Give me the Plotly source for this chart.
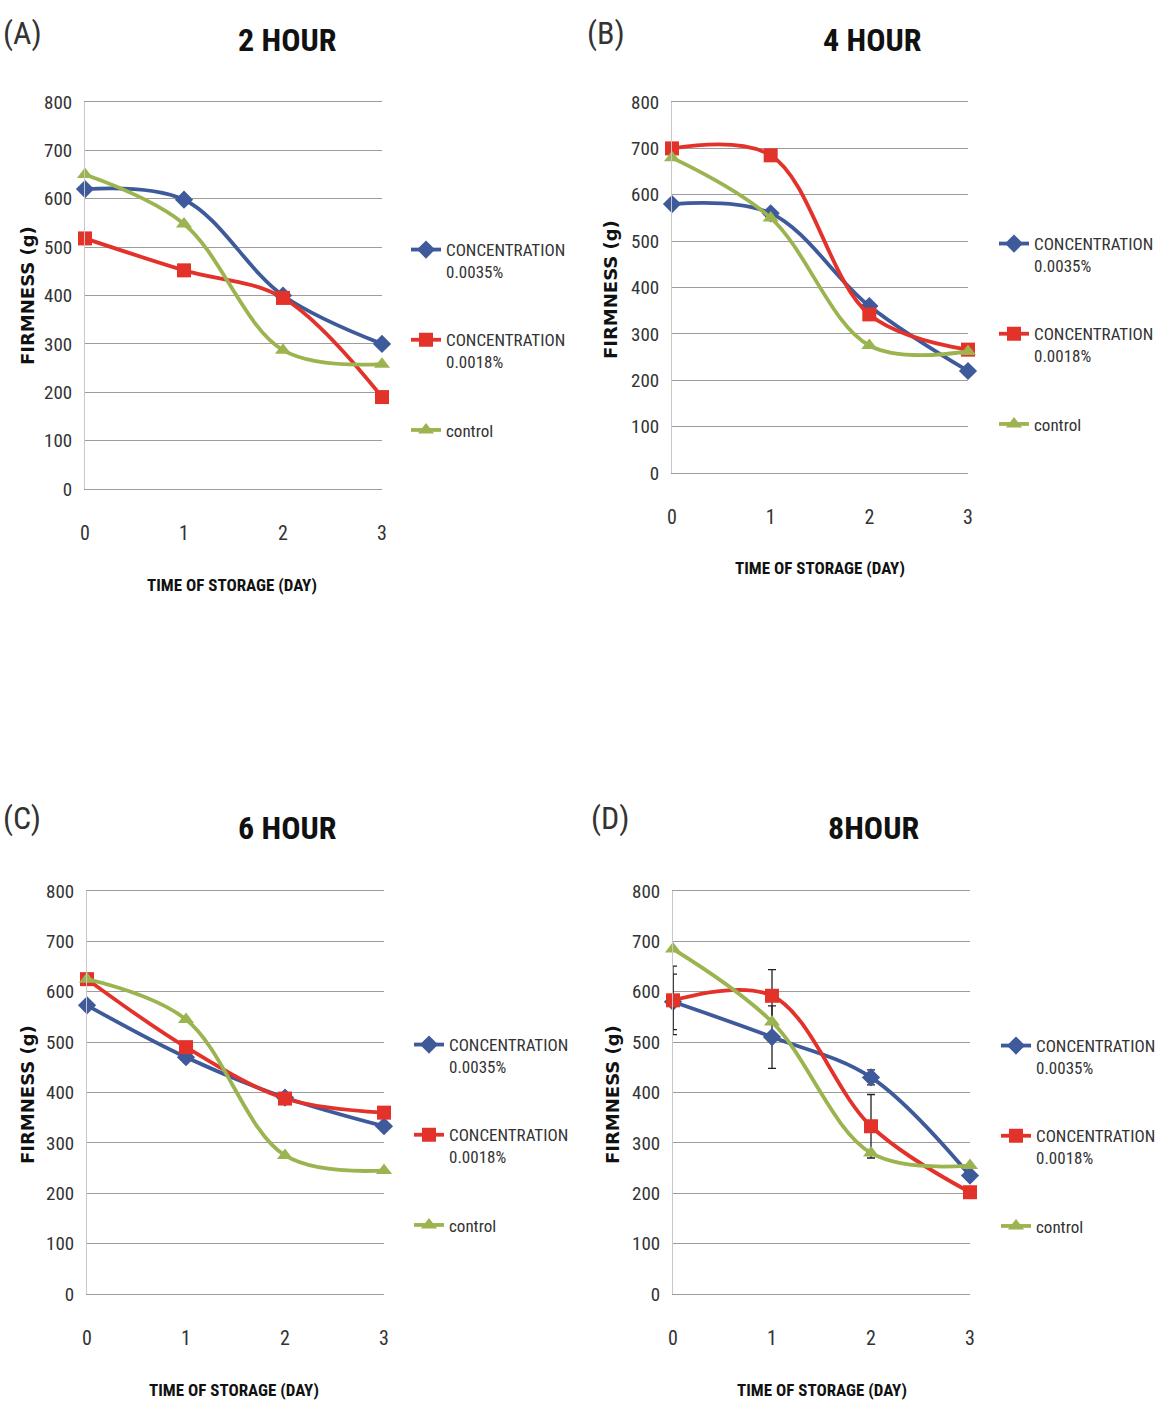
import plotly.graph_objects as go

W, H = 1164, 1405

# ---------------- data ----------------
DAYS = [0, 1, 2, 3]
SERIES_NAMES = ["CONCENTRATION<br>0.0035%", "CONCENTRATION<br>0.0018%", "control"]
PANEL_TITLES = ["2 HOUR", "4 HOUR", "6 HOUR", "8HOUR"]
PANEL_LABELS = ["(A)", "(B)", "(C)", "(D)"]

A_C35 = [620, 598, 400, 300]
A_C18 = [518, 452, 395, 190]
A_CTRL = [650, 548, 287, 258]

B_C35 = [580, 560, 360, 220]
B_C18 = [700, 685, 342, 266]
B_CTRL = [680, 550, 275, 262]

C_C35 = [573, 470, 390, 333]
C_C18 = [625, 490, 388, 360]
C_CTRL = [625, 545, 275, 245]

D_C35 = [580, 510, 430, 235]
D_C18 = [583, 592, 333, 202]
D_CTRL = [685, 540, 280, 255]
D_C35_ERR = [55, 62, 15, 0]
D_C18_ERR = [68, 52, 63, 0]

Y_TICKS = [0, 100, 200, 300, 400, 500, 600, 700, 800]
X_TICKS = [0, 1, 2, 3]

# ---------------- styling ----------------
COLORS = ["#3E5A9B", "#E2322A", "#9CB450"]
SYMBOLS = ["diamond", "square", "triangle-up"]
MSIZES = [14, 14, 14]
NARROW = "Roboto Condensed, DejaVu Sans Condensed, sans-serif"
BOLDWIDE = "DejaVu Sans, Verdana, sans-serif"
GRID = "#9C9C9C"


def px(x):
    return x / W


def py(y):
    return 1 - y / H


# plot areas in pixels: (x0, x1, ytop(800), ybottom(0))
AREAS = [
    (85, 382, 102, 489),
    (672, 968, 102, 473),
    (87, 384, 891, 1294),
    (673, 970, 891, 1294),
]
LEGEND_POS = [(406, 232), (994, 226), (409, 1027), (996, 1028)]
TITLE_POS = [(287, 40), (872, 40), (287, 828), (873, 828)]
LABEL_POS = [(22, 33), (606, 33), (22, 818), (610, 818)]
XTITLE_POS = [(232, 585), (820, 568), (234, 1390), (822, 1390)]
YTITLE_POS = [(27, 296), (610, 290), (27, 1095), (612, 1095)]

panel_data = [
    (A_C35, A_C18, A_CTRL, None, None),
    (B_C35, B_C18, B_CTRL, None, None),
    (C_C35, C_C18, C_CTRL, None, None),
    (D_C35, D_C18, D_CTRL, D_C35_ERR, D_C18_ERR),
]

fig = go.Figure()
layout = dict(
    width=W, height=H,
    margin=dict(l=0, r=0, t=0, b=0, autoexpand=False),
    paper_bgcolor="white", plot_bgcolor="white",
    showlegend=True,
    annotations=[],
)

for i, (s35, s18, sctl, e35, e18) in enumerate(panel_data):
    n = "" if i == 0 else str(i + 1)
    xa, ya = "x" + n, "y" + n
    leg = "legend" + n
    errs = [e35, e18, None]
    for j, vals in enumerate([s35, s18, sctl]):
        err = errs[j]
        fig.add_trace(go.Scatter(
            x=DAYS, y=vals, xaxis=xa, yaxis=ya,
            mode="lines+markers",
            name=SERIES_NAMES[j],
            legend=leg,
            legendgroup=f"p{i}s{j}",
            line=dict(color=COLORS[j], width=3.8, shape="spline", smoothing=1),
            marker=dict(symbol=SYMBOLS[j], size=MSIZES[j], color=COLORS[j]),
            error_y=(dict(type="data", array=err, visible=True, color="#222222",
                          thickness=1.3, width=4) if err is not None else None),
            cliponaxis=False,
        ))
    x0, x1, yt, yb = AREAS[i]
    layout["xaxis" + n] = dict(
        domain=[px(x0), px(x1)], anchor=ya, range=[0, 3],
        tickvals=X_TICKS, showgrid=False, zeroline=False,
        showline=True, mirror=True, linecolor=GRID, linewidth=1,
        ticks="", automargin=False,
        tickfont=dict(family=NARROW, size=20, color="#333333"),
        ticklabelstandoff=26,
    )
    layout["yaxis" + n] = dict(
        domain=[py(yb), py(yt)], anchor=xa, range=[0, 800],
        tickvals=Y_TICKS, showgrid=True, gridcolor=GRID, gridwidth=1,
        zeroline=False, showline=True, linecolor="#C8C8C8", linewidth=1,
        ticks="", automargin=False,
        tickfont=dict(family=NARROW, size=19, color="#333333"),
        ticklabelstandoff=8,
    )
    lx, ly = LEGEND_POS[i]
    layout[leg] = dict(
        x=px(lx), y=py(ly), xanchor="left", yanchor="top",
        bgcolor="rgba(0,0,0,0)", traceorder="grouped", tracegroupgap=43,
        valign="top", font=dict(family=NARROW, size=17, color="#333333"),
        itemwidth=30,
    )
    tx, ty = TITLE_POS[i]
    layout["annotations"].append(dict(
        text=f"<b>{PANEL_TITLES[i]}</b>", x=px(tx), y=py(ty), xref="paper", yref="paper",
        showarrow=False, xanchor="center", yanchor="middle",
        font=dict(family=NARROW, size=32, color="#111111")))
    lx2, ly2 = LABEL_POS[i]
    layout["annotations"].append(dict(
        text=PANEL_LABELS[i], x=px(lx2), y=py(ly2), xref="paper", yref="paper",
        showarrow=False, xanchor="center", yanchor="middle",
        font=dict(family=NARROW, size=32, color="#333333")))
    ax, ay = XTITLE_POS[i]
    layout["annotations"].append(dict(
        text="<b>TIME OF STORAGE (DAY)</b>", x=px(ax), y=py(ay), xref="paper", yref="paper",
        showarrow=False, xanchor="center", yanchor="middle",
        font=dict(family=NARROW, size=17, color="#111111")))
    yx, yy = YTITLE_POS[i]
    layout["annotations"].append(dict(
        text="<b>FIRMNESS (g)</b>", x=px(yx), y=py(yy), xref="paper", yref="paper",
        showarrow=False, xanchor="center", yanchor="middle", textangle=-90,
        font=dict(family=BOLDWIDE, size=18, color="#111111")))

fig.update_layout(**layout)
fig.write_html("out.html")
